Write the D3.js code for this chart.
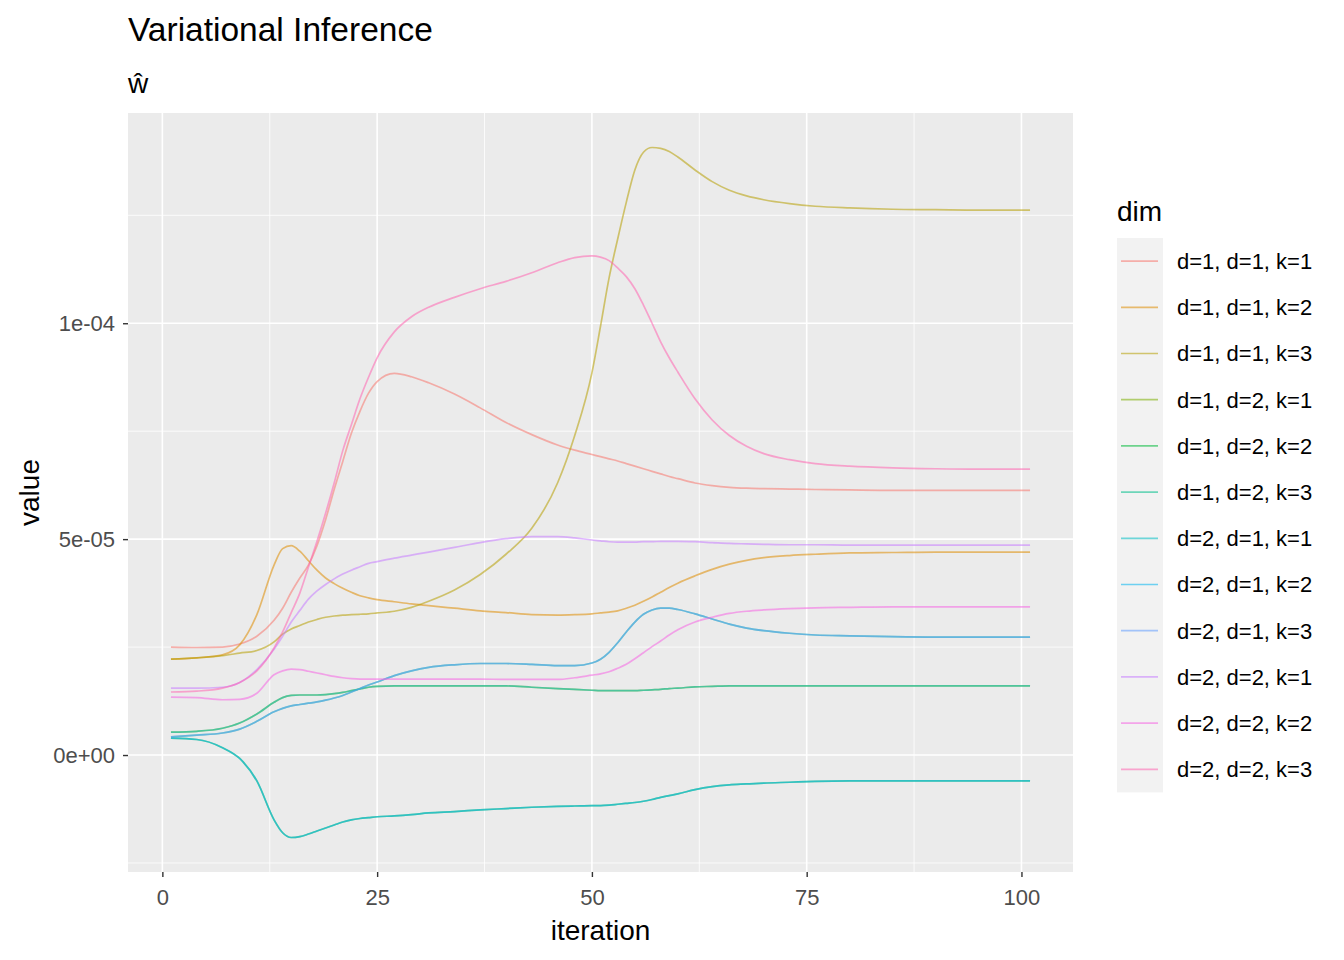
<!DOCTYPE html>
<html>
<head>
<meta charset="utf-8">
<script src="https://cdn.jsdelivr.net/npm/d3@7"></script>
<style>
  body { margin: 0; background: #fff; }
  svg text { font-family: "Liberation Sans", Arial, sans-serif; }
</style>
</head>
<body>
<svg id="chart" width="1344" height="960"></svg>
<script>
// values are read in units of 1e-5
const UNIT = 1e-5;

const iterations = [1, 4, 7, 9, 11,
    13, 14, 15, 16, 17, 18, 19, 20, 21, 22, 23, 24, 25,
    27, 29, 31, 34, 37, 40, 43, 46, 48,
    50, 51, 52, 53, 54, 55, 56, 57, 58, 59, 60,
    62, 64, 66, 68, 70,
    73, 76, 80, 85, 90, 95, 101];

const d1d1k1 = [2.50, 2.49, 2.50, 2.57, 2.75,
    3.12, 3.40, 3.77, 4.10, 4.40, 4.85, 5.45, 6.15, 6.80, 7.45, 7.96, 8.38, 8.65,
    8.84, 8.76, 8.62, 8.36, 8.04, 7.70, 7.42, 7.18, 7.06,
    6.96, 6.91, 6.86, 6.81, 6.75, 6.69, 6.63, 6.57, 6.51, 6.45, 6.40,
    6.30, 6.24, 6.20, 6.18, 6.17,
    6.16, 6.15, 6.14, 6.13, 6.13, 6.13, 6.13];

const d1d1k2 = [2.22, 2.25, 2.32, 2.55, 3.25,
    4.40, 4.78, 4.85, 4.72, 4.50, 4.28, 4.10, 3.97, 3.86, 3.77, 3.69, 3.64, 3.60,
    3.55, 3.50, 3.46, 3.40, 3.34, 3.30, 3.25, 3.24, 3.25,
    3.27, 3.29, 3.31, 3.34, 3.40, 3.47, 3.56, 3.66, 3.77, 3.88, 3.98,
    4.15, 4.30, 4.42, 4.51, 4.57,
    4.62, 4.65, 4.68, 4.69, 4.70, 4.70, 4.70];

const d1d1k3 = [2.22, 2.25, 2.30, 2.36, 2.42,
    2.62, 2.80, 2.92, 3.00, 3.08, 3.14, 3.19, 3.22, 3.24, 3.25, 3.26, 3.27, 3.29,
    3.33, 3.42, 3.56, 3.82, 4.18, 4.65, 5.25, 6.30, 7.40,
    8.85, 9.93, 11.05, 11.95, 12.80, 13.55, 13.96, 14.07, 14.05, 13.98, 13.85,
    13.55, 13.28, 13.08, 12.95, 12.86,
    12.77, 12.71, 12.67, 12.64, 12.63, 12.62, 12.62];

const d1d2k1 = [0.53, 0.55, 0.62, 0.74, 0.95,
    1.22, 1.33, 1.38, 1.39, 1.39, 1.39, 1.40, 1.42, 1.45, 1.49, 1.53, 1.57, 1.59,
    1.60, 1.60, 1.60, 1.60, 1.60, 1.60, 1.57, 1.54, 1.52,
    1.50, 1.49, 1.49, 1.49, 1.49, 1.49, 1.50, 1.51, 1.52, 1.54, 1.55,
    1.58, 1.59, 1.60, 1.60, 1.60,
    1.60, 1.60, 1.60, 1.60, 1.60, 1.60, 1.60];

const d1d2k2 = [0.39, 0.36, 0.17, -0.08, -0.60,
    -1.50, -1.80, -1.91, -1.89, -1.83, -1.76, -1.69, -1.62, -1.55, -1.50, -1.47, -1.45, -1.43,
    -1.41, -1.38, -1.34, -1.31, -1.27, -1.24, -1.21, -1.19, -1.18,
    -1.17, -1.17, -1.16, -1.14, -1.12, -1.10, -1.07, -1.03, -0.98, -0.94, -0.90,
    -0.80, -0.73, -0.69, -0.67, -0.65,
    -0.63, -0.61, -0.60, -0.60, -0.60, -0.60, -0.60];

const d1d2k3 = [0.42, 0.46, 0.51, 0.60, 0.78,
    1.00, 1.08, 1.14, 1.17, 1.20, 1.23, 1.27, 1.32, 1.38, 1.46, 1.54, 1.62, 1.69,
    1.84, 1.95, 2.03, 2.09, 2.12, 2.12, 2.10, 2.07, 2.07,
    2.13, 2.22, 2.38, 2.60, 2.85, 3.08, 3.26, 3.36, 3.40, 3.40, 3.37,
    3.27, 3.15, 3.03, 2.94, 2.88,
    2.82, 2.78, 2.76, 2.74, 2.73, 2.73, 2.73];

// off-diagonal entries are symmetric, the d=2,d=1 lines sit on top of d=1,d=2
const d2d1k1 = d1d2k1;
const d2d1k2 = d1d2k2;
const d2d1k3 = d1d2k3;

const d2d2k1 = [1.55, 1.55, 1.57, 1.68, 1.98,
    2.45, 2.75, 3.08, 3.35, 3.61, 3.80, 3.95, 4.08, 4.19, 4.28, 4.36, 4.44, 4.48,
    4.56, 4.63, 4.70, 4.81, 4.92, 5.01, 5.06, 5.06, 5.03,
    4.98, 4.96, 4.94, 4.93, 4.93, 4.93, 4.94, 4.94, 4.95, 4.95, 4.95,
    4.94, 4.92, 4.90, 4.89, 4.88,
    4.87, 4.87, 4.86, 4.86, 4.86, 4.86, 4.86];

const d2d2k2 = [1.34, 1.33, 1.28, 1.29, 1.43,
    1.86, 1.95, 1.99, 1.98, 1.94, 1.90, 1.86, 1.82, 1.79, 1.77, 1.76, 1.76, 1.76,
    1.76, 1.76, 1.76, 1.76, 1.76, 1.75, 1.75, 1.75, 1.79,
    1.85, 1.88, 1.93, 2.01, 2.10, 2.23, 2.37, 2.51, 2.64, 2.78, 2.90,
    3.08, 3.19, 3.28, 3.33, 3.36,
    3.39, 3.41, 3.42, 3.43, 3.43, 3.43, 3.43];

const d2d2k3 = [1.46, 1.48, 1.55, 1.68, 1.95,
    2.48, 2.85, 3.30, 3.75, 4.35, 4.95, 5.60, 6.30, 7.05, 7.65, 8.25, 8.75, 9.20,
    9.80, 10.15, 10.37, 10.60, 10.80, 10.97, 11.17, 11.40, 11.52,
    11.56, 11.53, 11.45, 11.28, 11.08, 10.80, 10.42, 10.00, 9.57, 9.20, 8.87,
    8.25, 7.76, 7.40, 7.15, 6.98,
    6.84, 6.75, 6.69, 6.65, 6.63, 6.62, 6.62];

const dimLabels = ["d=1, d=1, k=1", "d=1, d=1, k=2", "d=1, d=1, k=3",
    "d=1, d=2, k=1", "d=1, d=2, k=2", "d=1, d=2, k=3",
    "d=2, d=1, k=1", "d=2, d=1, k=2", "d=2, d=1, k=3",
    "d=2, d=2, k=1", "d=2, d=2, k=2", "d=2, d=2, k=3"];

const dimValues = [d1d1k1, d1d1k2, d1d1k3, d1d2k1, d1d2k2, d1d2k3,
    d2d1k1, d2d1k2, d2d1k3, d2d2k1, d2d2k2, d2d2k3];

// ggplot default hue palette for 12 levels
const dimColors = ["#F8766D", "#DE8C00", "#B79F00", "#7CAE00", "#00BA38", "#00C08B",
    "#00BFC4", "#00B4F0", "#619CFF", "#C77CFF", "#F564E3", "#FF64B0"];

const xBreaks = [0, 25, 50, 75, 100];
const xMinor = [12.5, 37.5, 62.5, 87.5];
const yBreaks = [0, 5e-5, 1e-4];
const yBreakLabels = ["0e+00", "5e-05", "1e-04"];
const yMinor = [-2.5e-5, 2.5e-5, 7.5e-5, 1.25e-4];

const panel = {left: 128, right: 1073, top: 113, bottom: 872};
const svg = d3.select("#chart");

// build series
const series = dimLabels.map((label, i) => ({
    label: label,
    color: dimColors[i],
    points: iterations.map((it, j) => ({x: it, y: dimValues[i][j] * UNIT}))
}));

// scales with ggplot's 5% expansion
const xExt = d3.extent(iterations);
const xPad = (xExt[1] - xExt[0]) * 0.05;
const x = d3.scaleLinear().domain([xExt[0] - xPad, xExt[1] + xPad]).range([panel.left, panel.right]);

const yExt = d3.extent(series.flatMap(s => s.points.map(p => p.y)));
const yPad = (yExt[1] - yExt[0]) * 0.05;
const y = d3.scaleLinear().domain([yExt[0] - yPad, yExt[1] + yPad]).range([panel.bottom, panel.top]);

// panel background
svg.append("rect")
    .attr("x", panel.left).attr("y", panel.top)
    .attr("width", panel.right - panel.left).attr("height", panel.bottom - panel.top)
    .attr("fill", "#EBEBEB");

const grid = svg.append("g");
grid.selectAll(".ymin").data(yMinor).enter().append("line")
    .attr("x1", panel.left).attr("x2", panel.right)
    .attr("y1", d => y(d)).attr("y2", d => y(d))
    .attr("stroke", "#fff").attr("stroke-width", 0.8);
grid.selectAll(".xmin").data(xMinor).enter().append("line")
    .attr("y1", panel.top).attr("y2", panel.bottom)
    .attr("x1", d => x(d)).attr("x2", d => x(d))
    .attr("stroke", "#fff").attr("stroke-width", 0.8);
grid.selectAll(".ymaj").data(yBreaks).enter().append("line")
    .attr("x1", panel.left).attr("x2", panel.right)
    .attr("y1", d => y(d)).attr("y2", d => y(d))
    .attr("stroke", "#fff").attr("stroke-width", 1.6);
grid.selectAll(".xmaj").data(xBreaks).enter().append("line")
    .attr("y1", panel.top).attr("y2", panel.bottom)
    .attr("x1", d => x(d)).attr("x2", d => x(d))
    .attr("stroke", "#fff").attr("stroke-width", 1.6);

// lines
const line = d3.line()
    .x(d => x(d.x))
    .y(d => y(d.y))
    .curve(d3.curveMonotoneX);

svg.append("g").selectAll("path").data(series).enter().append("path")
    .attr("d", d => line(d.points))
    .attr("fill", "none")
    .attr("stroke", d => d.color)
    .attr("stroke-opacity", 0.55)
    .attr("stroke-width", 1.7);

// axes
const xAxis = svg.append("g").attr("transform", `translate(0,${panel.bottom})`)
    .call(d3.axisBottom(x).tickValues(xBreaks).tickSize(5).tickPadding(12));
const yAxis = svg.append("g").attr("transform", `translate(${panel.left},0)`)
    .call(d3.axisLeft(y).tickValues(yBreaks).tickFormat((d, i) => yBreakLabels[i]).tickSize(5).tickPadding(8));

[xAxis, yAxis].forEach(ax => {
    ax.select(".domain").remove();
    ax.selectAll(".tick line").attr("stroke", "#333333").attr("stroke-width", 1.4);
    ax.selectAll(".tick text")
        .attr("fill", "#4D4D4D")
        .style("font-size", "22px")
        .style("font-family", "'Liberation Sans', Arial, sans-serif");
});
xAxis.selectAll(".tick text").attr("dy", "0.72em");
yAxis.selectAll(".tick text").attr("dy", "0.35em");

// titles
svg.append("text").attr("x", panel.left).attr("y", 41)
    .style("font-size", "33.5px").attr("fill", "#000").text("Variational Inference");
svg.append("text").attr("x", 128).attr("y", 93)
    .style("font-size", "28px").attr("fill", "#000").text("ŵ");

svg.append("text").attr("x", (panel.left + panel.right) / 2).attr("y", 940)
    .attr("text-anchor", "middle").style("font-size", "28px").attr("fill", "#000")
    .text("iteration");
svg.append("text")
    .attr("transform", `translate(39,${(panel.top + panel.bottom) / 2}) rotate(-90)`)
    .attr("text-anchor", "middle").style("font-size", "28px").attr("fill", "#000")
    .text("value");

// legend
const keyH = 46.2, keyTop = 238;
const legend = svg.append("g");
legend.append("text").attr("x", 1117).attr("y", 221)
    .style("font-size", "28px").attr("fill", "#000").text("dim");
legend.append("rect")
    .attr("x", 1117).attr("y", keyTop)
    .attr("width", 46).attr("height", keyH * series.length)
    .attr("fill", "#F2F2F2");
const item = legend.selectAll(".item").data(series).enter().append("g")
    .attr("transform", (d, i) => `translate(0,${keyTop + keyH * (i + 0.5)})`);
item.append("line")
    .attr("x1", 1121).attr("x2", 1158)
    .attr("stroke", d => d.color).attr("stroke-opacity", 0.55).attr("stroke-width", 1.7);
item.append("text")
    .attr("x", 1177).attr("dy", "0.36em")
    .style("font-size", "22px").attr("fill", "#000")
    .text(d => d.label);
</script>
</body>
</html>
